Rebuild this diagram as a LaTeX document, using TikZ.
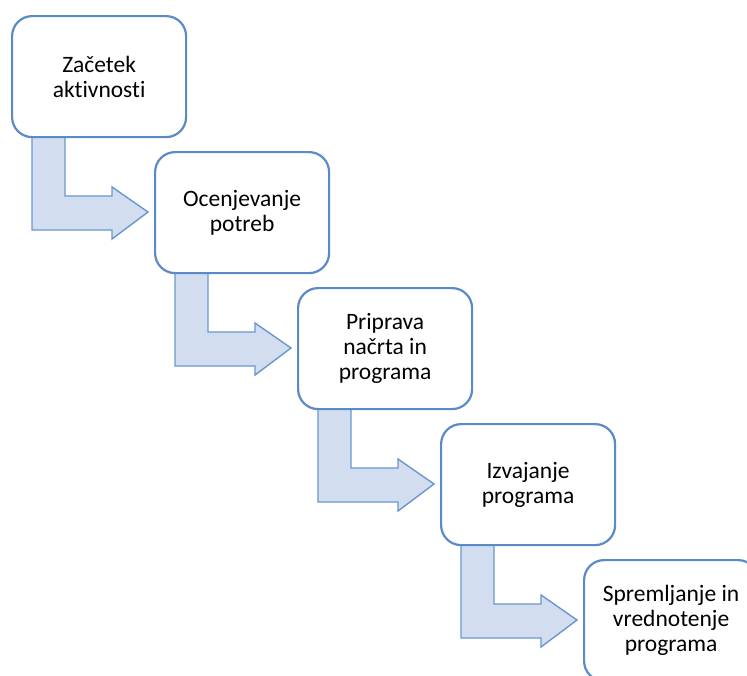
\documentclass[tikz,border=0pt]{standalone}
\usepackage{fontspec}
\setmainfont[Ligatures=NoCommon]{Carlito}
\usetikzlibrary{calc}
\definecolor{boxline}{HTML}{5B8BC7}
\definecolor{arrfill}{HTML}{D2DDF0}
\definecolor{arrline}{HTML}{6A97CE}
\begin{document}
\begin{tikzpicture}[x=1pt,y=-1pt,
  stepbox/.style={draw=boxline,line width=2.2pt,fill=white,rounded corners=20pt,
    minimum width=174pt,minimum height=121pt,anchor=north west,inner sep=0pt,
    align=center,font=\fontsize{23.5}{25}\selectfont},
  bentarrow/.style={draw=arrline,fill=arrfill,line width=1.4pt,line join=miter}]
\useasboundingbox (0,0) rectangle (747,675);
\clip (0,0) rectangle (747,675);
% arrows drawn first, relative to each box
\foreach \i in {0,1,2,3}{
  \begin{scope}[shift={({11+143*\i},{15+136*\i})}]
    \draw[bentarrow] (21,121) -- (54,121) -- (54,181) -- (101,181) -- (101,172)
      -- (137,197) -- (101,224) -- (101,215) -- (21,215) -- cycle;
  \end{scope}
}
\node[stepbox] (b1) at (11,15) {Začetek\\aktivnosti};
\node[stepbox] (b2) at (154,151) {Ocenjevanje\\potreb};
\node[stepbox] (b3) at (297,287) {Priprava\\načrta in\\programa};
\node[stepbox] (b4) at (440,423) {Izvajanje\\programa};
\node[stepbox] (b5) at (583,559) {Spremljanje in\\vrednotenje\\programa};
\end{tikzpicture}
\end{document}
